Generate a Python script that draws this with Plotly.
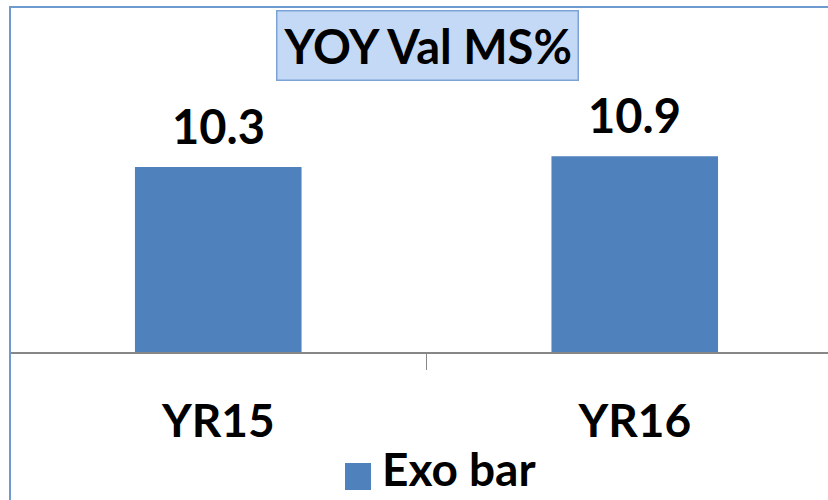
import plotly.graph_objects as go

categories = ["YR15", "YR16"]
values = [10.3, 10.9]
series_name = "Exo bar"
title_text = "YOY Val MS%"

BAR = "#4F81BD"
BORDER = "#6F9AD0"
AXIS = "#878787"
FONT = "Lato, Calibri, sans-serif"

fig = go.Figure()
fig.add_trace(go.Bar(
    x=categories, y=values,
    name=series_name,
    marker=dict(color=BAR, line=dict(width=0)),
    width=0.4,
    showlegend=False,
))

# value labels above the bars
for cat, val in zip(categories, values):
    fig.add_annotation(
        x=cat, y=val, text=f"<b>{val}</b>",
        showarrow=False, yanchor="bottom", yshift=11,
        font=dict(family=FONT, size=47, color="black"),
    )

# boxed title
fig.add_annotation(
    xref="paper", yref="paper", x=0.51, y=0.887,
    xanchor="center", yanchor="middle",
    text=f"<b>{title_text}</b>", showarrow=False,
    font=dict(family=FONT, size=47, color="black"),
    bgcolor="#C4D9F6", bordercolor="#7DA3D6", borderwidth=1.5, borderpad=6,
)

# legend: large swatch + bold label, like the original
fig.add_shape(
    type="rect", xref="paper", yref="paper",
    x0=0.4095, x1=0.4413, y0=-0.40, y1=-0.3217,
    fillcolor=BAR, line=dict(width=0),
)
fig.add_annotation(
    xref="paper", yref="paper", x=0.4523, y=-0.339,
    xanchor="left", yanchor="middle", showarrow=False,
    text=f"<b>{series_name}</b>",
    font=dict(family=FONT, size=46, color="black"),
)

# chart area border (top and left edges visible)
fig.add_shape(
    type="rect", xref="paper", yref="paper",
    x0=0, x1=1.2, y0=-1, y1=1,
    line=dict(color=BORDER, width=2), fillcolor="rgba(0,0,0,0)",
    layer="above",
)

fig.update_layout(
    width=828, height=500,
    paper_bgcolor="white", plot_bgcolor="white",
    margin=dict(l=10, r=0, t=7, b=148, autoexpand=False),
    font=dict(family=FONT, color="black"),
    showlegend=False,
    xaxis=dict(
        type="category", range=[-0.5, 1.464],
        showline=True, linecolor=AXIS, linewidth=2,
        ticks="outside", tickson="boundaries", ticklen=16, tickcolor=AXIS, tickwidth=1,
        tickfont=dict(family=FONT, size=46, color="black"),
        tickprefix="<b>", ticksuffix="</b>",
        ticklabelstandoff=28,
        showgrid=False, zeroline=False,
    ),
    yaxis=dict(
        range=[0, 19.2], visible=False, showgrid=False, zeroline=False,
    ),
)

# the page's default body margin would push the chart 8px off the window
fig.write_html(
    "out.html",
    config={"displayModeBar": False},
    post_script="document.body.style.margin='0';",
)
